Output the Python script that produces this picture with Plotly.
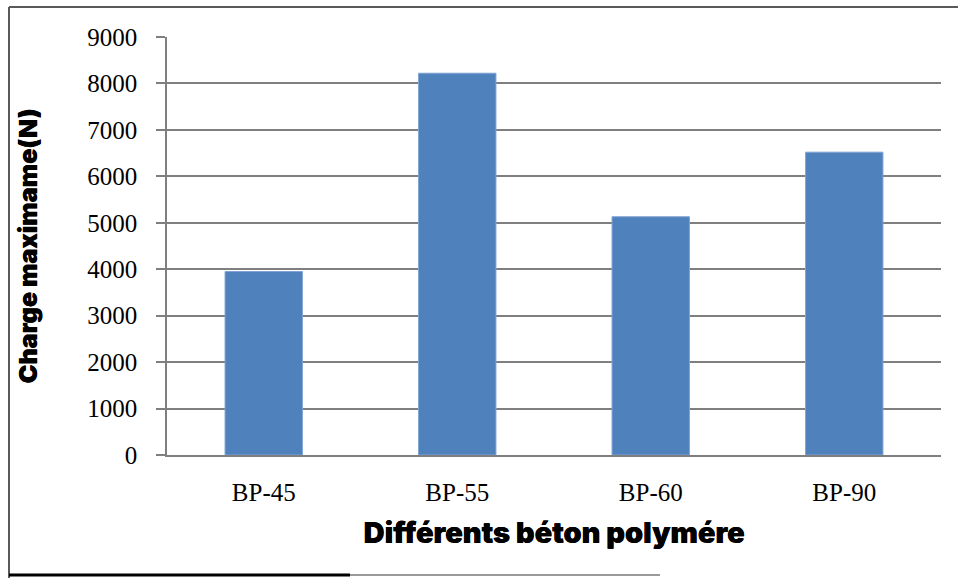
import plotly.graph_objects as go

# Maximum load per polymer concrete mix
categories = ["BP-45", "BP-55", "BP-60", "BP-90"]
max_load = [3950, 8220, 5130, 6520]
y_ticks = [0, 1000, 2000, 3000, 4000, 5000, 6000, 7000, 8000, 9000]

W, H = 958, 579
L, R, T, B = 167, 941, 37, 455  # plot area in pixels


def px_x(p):
    return (p - L) / (R - L)


def px_y(p):
    return (B - p) / (B - T)


fig = go.Figure(
    go.Bar(
        x=categories,
        y=max_load,
        width=0.4,
        marker=dict(color="#4F81BD", line=dict(color="#7FA3D3", width=1)),
    )
)

serif = dict(family="Liberation Serif, DejaVu Serif, serif", size=25, color="#000000")
heavy_x = dict(family="Inter, Roboto, DejaVu Sans, sans-serif", size=29, color="#000000",
               weight=900, shadow="0.4px 0 0 #000")
heavy_y = dict(heavy_x, size=25)

fig.update_layout(
    width=W,
    height=H,
    margin=dict(l=L, r=W - R, t=T, b=H - B, autoexpand=False),
    paper_bgcolor="white",
    plot_bgcolor="white",
    showlegend=False,
    bargap=0.6,
    xaxis=dict(
        showgrid=False,
        showline=True,
        linecolor="#7F7F7F",
        linewidth=1.5,
        ticks="",
        tickfont=serif,
        ticklabelstandoff=14,
        title=dict(text="Différents béton polymére", font=heavy_x, standoff=18),
    ),
    yaxis=dict(
        range=[0, 9000],
        tickvals=y_ticks,
        ticktext=[str(v) for v in y_ticks],
        showgrid=True,
        gridcolor="#7F7F7F",
        gridwidth=1.5,
        showline=True,
        linecolor="#7F7F7F",
        linewidth=1.5,
        ticks="outside",
        ticklen=9,
        tickcolor="#7F7F7F",
        tickwidth=1.5,
        tickfont=serif,
        ticklabelstandoff=14,
        zeroline=False,
        title=dict(text="Charge maximame(N)", font=heavy_y, standoff=43),
    ),
    shapes=[
        # outer frame: top and left edges
        dict(type="line", xref="paper", yref="paper",
             x0=px_x(9), x1=px_x(958), y0=px_y(7), y1=px_y(7),
             line=dict(color="#5A5A5A", width=2)),
        dict(type="line", xref="paper", yref="paper",
             x0=px_x(9), x1=px_x(9), y0=px_y(7), y1=px_y(578),
             line=dict(color="#5A5A5A", width=2)),
        # bottom edge with a darker left part
        dict(type="line", xref="paper", yref="paper",
             x0=px_x(9), x1=px_x(660), y0=px_y(575), y1=px_y(575),
             line=dict(color="#9A9A9A", width=2)),
        dict(type="line", xref="paper", yref="paper",
             x0=px_x(9), x1=px_x(350), y0=px_y(575), y1=px_y(575),
             line=dict(color="#000000", width=3)),
    ],
)

fig.write_html("out.html")
